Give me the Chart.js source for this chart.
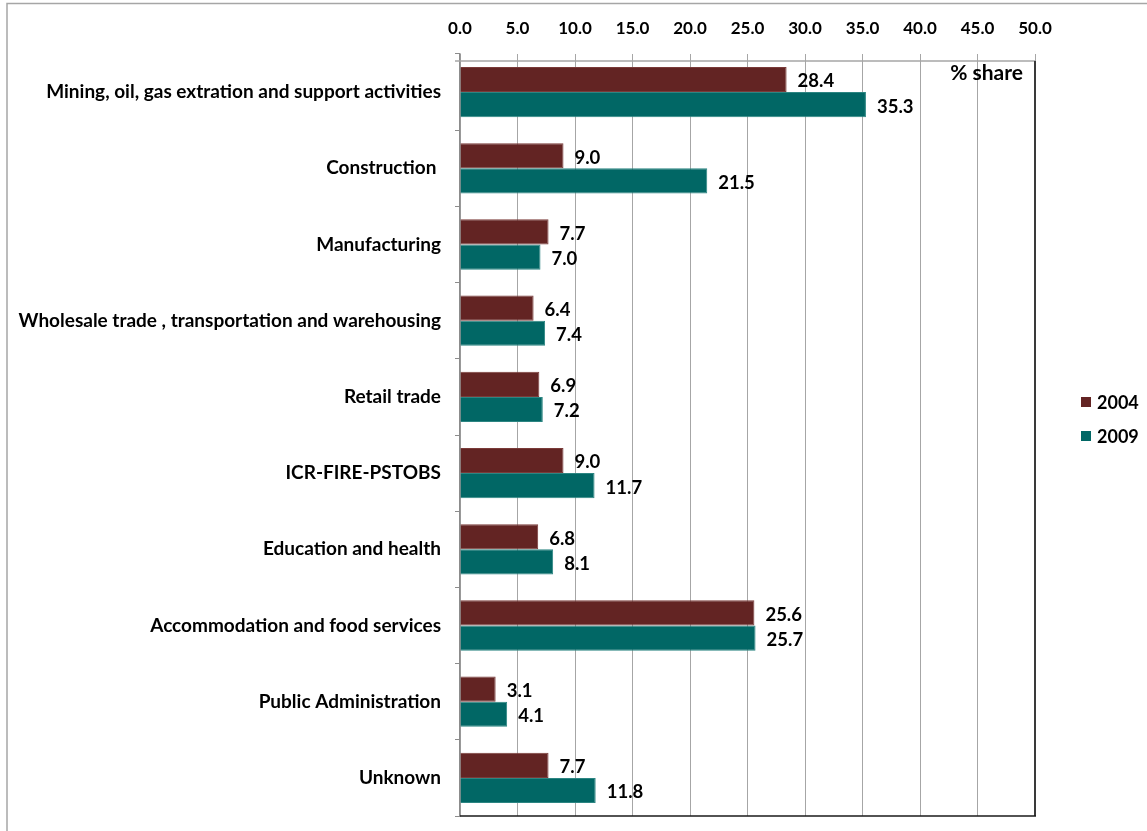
<!DOCTYPE html>
<html>
<head>
<meta charset="utf-8">
<script src="https://cdn.jsdelivr.net/npm/chart.js@4.4.1/dist/chart.umd.min.js"></script>
<style>
  html, body { margin: 0; padding: 0; background: #fff; }
  #wrap { width: 1147px; height: 831px; position: relative; }
</style>
</head>
<body>
<div id="wrap"><canvas id="chart" width="1147" height="831"></canvas></div>
<script>
'use strict';

// Share of employment by industry, % share
const categories = [
    'Mining, oil, gas extration and support activities',
    'Construction ',
    'Manufacturing',
    'Wholesale trade , transportation and warehousing',
    'Retail trade',
    'ICR-FIRE-PSTOBS',
    'Education and health',
    'Accommodation and food services',
    'Public Administration',
    'Unknown'
];
const seriesNames = ['2004', '2009'];
const values2004 = [28.4, 9.0, 7.7, 6.4, 6.9, 9.0, 6.8, 25.6, 3.1, 7.7];
const values2009 = [35.3, 21.5, 7.0, 7.4, 7.2, 11.7, 8.1, 25.7, 4.1, 11.8];
const seriesColors = ['#632423', '#016765'];
const axisMin = 0;
const axisMax = 50;
const axisStep = 5;
const unitNote = '% share';

const FONT = 'Lato, "Open Sans", sans-serif';
const AXIS_LINE_Y = 61; // Excel draws the value axis line a little below the plot top

// frame around the whole chart + plot borders, note and legend
const framePlugin = {
    id: 'frame',
    beforeDraw(chart) {
        const ctx = chart.ctx;
        ctx.save();
        ctx.strokeStyle = '#a6a6a6';
        ctx.lineWidth = 1.5;
        ctx.strokeRect(7, 3.5, 1200, 900);
        ctx.restore();
    },
    afterDraw(chart) {
        const { ctx, chartArea: a } = chart;
        ctx.save();
        // value axis line (top)
        ctx.strokeStyle = '#a6a6a6';
        ctx.lineWidth = 1.5;
        ctx.beginPath();
        ctx.moveTo(a.left - 5, AXIS_LINE_Y);
        ctx.lineTo(a.right, AXIS_LINE_Y);
        ctx.stroke();
        // right border of plot area
        ctx.strokeStyle = '#3a3a3a';
        ctx.lineWidth = 2;
        ctx.beginPath();
        ctx.moveTo(a.right, AXIS_LINE_Y);
        ctx.lineTo(a.right, a.bottom);
        ctx.stroke();
        // bottom line
        ctx.strokeStyle = '#1a1a1a';
        ctx.lineWidth = 1.5;
        ctx.beginPath();
        ctx.moveTo(a.left, a.bottom);
        ctx.lineTo(a.right + 1, a.bottom);
        ctx.stroke();

        // "% share" note
        ctx.fillStyle = '#000';
        ctx.font = 'bold 21px ' + FONT;
        ctx.textAlign = 'right';
        ctx.textBaseline = 'middle';
        ctx.fillText(unitNote, a.right - 12, 73);

        // legend
        ctx.font = 'bold 18px ' + FONT;
        ctx.textAlign = 'left';
        chart.data.datasets.forEach((ds, i) => {
            const y = 402 + i * 34;
            ctx.fillStyle = ds.backgroundColor;
            ctx.fillRect(1081, y - 5, 10, 10);
            ctx.fillStyle = '#000';
            ctx.fillText(ds.label, 1097, y + 1);
        });
        ctx.restore();
    }
};

// value labels right of each bar
const barLabels = {
    id: 'barLabels',
    afterDatasetsDraw(chart) {
        const ctx = chart.ctx;
        ctx.save();
        ctx.font = 'bold 18.5px ' + FONT;
        ctx.fillStyle = '#000';
        ctx.textAlign = 'left';
        ctx.textBaseline = 'middle';
        chart.data.datasets.forEach((ds, di) => {
            const meta = chart.getDatasetMeta(di);
            meta.data.forEach((el, i) => {
                ctx.fillText(ds.data[i].toFixed(1), el.x + 11, el.y + 2);
            });
        });
        ctx.restore();
    }
};

const ctx = document.getElementById('chart').getContext('2d');
new Chart(ctx, {
    type: 'bar',
    data: {
        labels: categories,
        datasets: [
            { label: seriesNames[0], data: values2004, backgroundColor: seriesColors[0],
              borderColor: '#7a3b39', borderWidth: 1 },
            { label: seriesNames[1], data: values2009, backgroundColor: seriesColors[1],
              borderColor: '#2c8582', borderWidth: 1 }
        ]
    },
    options: {
        indexAxis: 'y',
        responsive: false,
        animation: false,
        categoryPercentage: 0.66,
        barPercentage: 1.0,
        layout: { padding: { left: 0, top: 0, right: 112, bottom: 15 } },
        scales: {
            x: {
                position: 'top',
                min: axisMin,
                max: axisMax,
                afterFit(scale) { scale.height = 54; },
                ticks: {
                    stepSize: axisStep,
                    padding: 15,
                    color: '#000',
                    font: { family: FONT, size: 17, weight: 'bold' },
                    callback: v => Number(v).toFixed(1)
                },
                grid: { color: '#a6a6a6', lineWidth: 1, drawTicks: false },
                border: { display: false }
            },
            y: {
                afterFit(scale) {
                    scale.width = 460;
                    scale.paddingTop = 0;
                    scale.paddingBottom = 0;
                },
                ticks: {
                    padding: 14,
                    color: '#000',
                    font: { family: FONT, size: 19, weight: 'bold' }
                },
                grid: { drawOnChartArea: false, offset: true, tickLength: 5, color: '#8c8c8c' },
                border: { color: '#8c8c8c', width: 1.5 }
            }
        },
        plugins: {
            legend: { display: false },
            tooltip: { enabled: false }
        }
    },
    plugins: [framePlugin, barLabels]
});
</script>
</body>
</html>
